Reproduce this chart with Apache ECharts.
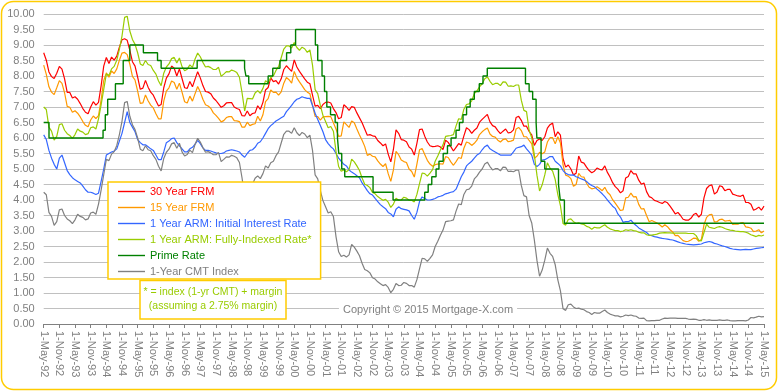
<!DOCTYPE html>
<html><head><meta charset="utf-8">
<script src="https://cdn.jsdelivr.net/npm/echarts@6/dist/echarts.min.js"></script>
<style>html,body{margin:0;padding:0;background:#fff}#c{width:778px;height:391px}</style>
</head><body><div id="c"></div>
<script>
// Monthly values, May-1992 .. May-2015 (277 months)
const frm30 = [
 8.75,8.51,8.13,7.98,7.92,8.09,8.31,8.22,
 7.91,7.47,7.47,7.29,7.33,7.25,7.11,6.95,6.83,6.78,7.00,7.17,
 7.06,7.15,7.68,8.32,8.60,8.40,8.61,8.51,8.64,8.93,9.17,9.20,
 9.15,8.83,8.46,8.32,7.96,7.57,7.61,7.86,7.64,7.48,7.38,7.20,
 7.03,7.08,7.62,7.93,8.07,8.32,8.25,8.00,8.23,7.92,7.62,7.60,
 7.82,7.65,7.90,8.14,7.94,7.69,7.50,7.48,7.43,7.29,7.21,7.10,
 6.99,7.04,7.13,7.14,7.14,7.00,6.95,6.92,6.72,6.71,6.87,6.72,
 6.79,6.81,7.04,6.92,7.15,7.55,7.63,7.94,7.82,7.85,7.74,7.91,
 8.21,8.33,8.24,8.15,8.52,8.29,8.15,8.03,7.91,7.80,7.75,7.38,
 7.03,7.05,6.95,7.08,7.15,7.16,7.13,6.95,6.82,6.62,6.66,7.07,
 7.00,6.89,7.01,6.99,6.81,6.65,6.49,6.29,6.09,6.11,6.07,6.05,
 5.92,5.84,5.75,5.81,5.48,5.23,5.63,6.26,6.15,5.95,5.93,5.88,
 5.71,5.64,5.45,5.83,6.27,6.29,6.06,5.87,5.75,5.72,5.73,5.75,
 5.71,5.63,5.93,5.86,5.72,5.58,5.70,5.82,5.77,6.07,6.33,6.27,
 6.15,6.25,6.32,6.51,6.60,6.68,6.76,6.52,6.40,6.36,6.24,6.14,
 6.22,6.29,6.16,6.18,6.26,6.66,6.70,6.57,6.38,6.38,6.21,6.10,
 5.76,5.92,5.97,5.92,6.04,6.32,6.43,6.48,6.04,6.20,6.09,5.33,
 5.06,5.13,5.00,4.81,4.86,5.42,5.22,5.19,5.06,4.95,4.88,4.93,
 5.03,4.99,4.97,5.10,4.89,4.74,4.56,4.43,4.35,4.23,4.30,4.71,
 4.76,4.95,4.84,4.84,4.64,4.51,4.55,4.27,4.11,4.07,3.99,3.96,
 3.92,3.89,3.95,3.91,3.80,3.68,3.55,3.60,3.50,3.38,3.35,3.35,
 3.41,3.53,3.57,3.45,3.54,4.07,4.37,4.46,4.49,4.19,4.26,4.46,
 4.43,4.30,4.34,4.34,4.19,4.16,4.13,4.12,4.16,3.92,3.92,3.86,
 3.67,3.71,3.77,3.67,3.80
];
const frm15 = [
 8.35,8.05,7.65,7.48,7.40,7.62,7.85,7.76,
 7.46,7.02,6.99,6.83,6.88,6.80,6.68,6.53,6.41,6.36,6.58,6.71,
 6.63,6.72,7.23,7.85,8.10,7.96,8.16,8.08,8.23,8.51,8.74,8.76,
 8.69,8.38,7.99,7.87,7.51,7.12,7.13,7.39,7.20,7.06,6.97,6.78,
 6.62,6.62,7.19,7.51,7.62,7.84,7.79,7.57,7.77,7.48,7.17,7.13,
 7.35,7.19,7.43,7.66,7.48,7.25,7.07,7.03,6.96,6.81,6.73,6.63,
 6.52,6.56,6.66,6.69,6.69,6.56,6.55,6.53,6.35,6.35,6.51,6.40,
 6.44,6.46,6.70,6.55,6.75,7.17,7.27,7.55,7.47,7.48,7.38,7.49,
 7.77,7.95,7.88,7.77,8.15,7.94,7.81,7.69,7.56,7.48,7.43,7.05,
 6.70,6.69,6.58,6.68,6.69,6.70,6.69,6.49,6.29,6.05,6.07,6.52,
 6.43,6.34,6.55,6.49,6.29,6.10,5.93,5.73,5.44,5.48,5.41,5.39,
 5.26,5.16,5.08,5.17,4.85,4.60,4.97,5.57,5.46,5.29,5.24,5.21,
 5.00,4.92,4.74,5.16,5.62,5.66,5.47,5.28,5.16,5.09,5.14,5.16,
 5.17,5.16,5.40,5.37,5.23,5.12,5.24,5.37,5.34,5.67,5.87,5.84,
 5.76,5.83,5.93,6.11,6.20,6.27,6.32,6.13,6.05,6.03,5.93,5.87,
 5.95,5.97,5.88,5.90,5.93,6.29,6.34,6.24,6.04,6.04,5.92,5.81,
 5.35,5.41,5.54,5.49,5.55,5.87,6.01,6.01,5.81,6.04,5.84,5.13,
 4.80,4.77,4.69,4.44,4.50,4.86,4.75,4.74,4.54,4.41,4.36,4.38,
 4.43,4.37,4.30,4.41,4.25,4.17,4.01,3.90,3.78,3.66,3.68,4.07,
 4.09,4.22,4.10,4.11,3.86,3.71,3.72,3.50,3.30,3.34,3.30,3.26,
 3.20,3.13,3.20,3.14,3.04,2.97,2.85,2.86,2.77,2.69,2.66,2.67,
 2.71,2.77,2.76,2.67,2.73,3.20,3.44,3.52,3.54,3.29,3.30,3.37,
 3.38,3.32,3.33,3.34,3.21,3.23,3.22,3.26,3.27,3.13,3.12,3.09,
 2.98,3.00,3.04,2.94,3.00
];
const armInitial = [
 6.10,5.95,5.60,5.35,5.15,5.00,5.35,5.45,
 5.20,4.95,4.82,4.72,4.65,4.60,4.55,4.45,4.33,4.25,4.25,4.22,
 4.18,4.22,4.60,5.00,5.45,5.50,5.55,5.58,5.65,5.90,6.15,6.50,
 6.85,6.50,6.35,6.20,5.95,5.85,5.78,5.78,5.72,5.65,5.60,5.45,
 5.30,5.30,5.55,5.85,5.90,5.98,6.00,5.85,5.75,5.65,5.55,5.55,
 5.65,5.70,5.80,5.92,5.82,5.68,5.60,5.60,5.58,5.55,5.52,5.50,
 5.50,5.52,5.58,5.60,5.62,5.60,5.58,5.55,5.45,5.38,5.50,5.60,
 5.62,5.70,5.83,5.88,6.00,6.15,6.30,6.40,6.47,6.55,6.60,6.65,
 6.70,6.85,6.95,7.05,7.17,7.25,7.28,7.33,7.30,7.28,7.28,7.05,
 6.80,6.60,6.40,6.20,5.95,5.82,5.72,5.65,5.50,5.35,5.25,5.15,
 5.10,4.97,4.90,4.85,4.78,4.72,4.55,4.43,4.30,4.20,4.16,4.05,
 3.95,3.85,3.78,3.72,3.60,3.55,3.46,3.70,3.78,3.72,3.70,3.68,
 3.65,3.50,3.38,3.60,3.95,4.10,4.05,4.00,4.00,4.02,4.05,4.10,
 4.12,4.15,4.20,4.22,4.25,4.27,4.35,4.55,4.75,4.90,5.10,5.18,
 5.25,5.35,5.45,5.50,5.62,5.72,5.77,5.65,5.60,5.55,5.50,5.45,
 5.45,5.45,5.45,5.45,5.55,5.67,5.70,5.72,5.77,5.65,5.55,5.45,
 5.15,5.08,5.15,5.29,5.30,5.35,5.40,5.40,5.25,5.18,5.10,4.95,
 4.86,4.82,4.80,4.81,4.75,4.72,4.68,4.65,4.60,4.52,4.47,4.43,
 4.35,4.28,4.20,4.11,4.00,3.90,3.80,3.73,3.55,3.45,3.28,3.30,
 3.30,3.35,3.25,3.18,3.10,3.05,3.00,2.95,2.87,2.85,2.82,2.80,
 2.78,2.76,2.75,2.74,2.72,2.71,2.68,2.65,2.62,2.60,2.58,2.57,
 2.56,2.55,2.56,2.57,2.58,2.62,2.64,2.66,2.64,2.60,2.58,2.55,
 2.52,2.50,2.47,2.44,2.42,2.41,2.40,2.39,2.40,2.41,2.40,2.40,
 2.42,2.44,2.45,2.46,2.47
];
const armFullyIndexed = [
 7.00,6.92,6.35,6.22,5.93,6.05,6.43,6.46,
 6.25,6.14,6.08,5.99,6.11,6.29,6.22,6.19,6.11,6.14,6.33,6.36,
 6.29,6.62,7.07,7.57,8.06,8.02,8.23,8.31,8.51,8.86,9.29,9.89,
 9.93,9.45,9.18,9.02,8.75,8.39,8.34,8.50,8.37,8.34,8.18,8.06,
 7.84,7.69,8.09,8.29,8.39,8.56,8.60,8.42,8.58,8.30,8.17,8.22,
 8.36,8.28,8.55,8.74,8.62,8.44,8.29,8.31,8.27,8.21,8.21,8.28,
 7.99,8.06,8.14,8.13,8.19,8.16,8.11,7.96,7.46,6.87,7.28,7.27,
 7.26,7.45,7.53,7.44,7.60,7.85,7.78,7.95,8.00,8.18,8.30,8.59,
 8.87,8.97,8.97,8.90,9.08,8.92,8.83,8.93,8.88,8.76,8.84,8.35,
 7.56,7.43,7.05,6.73,6.53,6.33,6.37,6.22,5.57,5.08,4.93,4.97,
 4.91,4.98,5.32,5.23,5.10,4.95,4.71,4.51,4.47,4.40,4.24,4.20,
 4.11,4.05,3.99,4.02,3.93,3.76,3.87,4.06,3.99,4.00,4.09,4.06,
 3.99,3.99,3.94,4.18,4.53,4.87,4.85,4.77,4.87,4.98,5.25,5.42,
 5.61,5.78,6.05,6.07,6.08,6.11,6.39,6.62,6.60,6.93,7.08,7.10,
 7.20,7.43,7.52,7.65,7.75,7.91,7.97,7.83,7.72,7.76,7.76,7.69,
 7.81,7.80,7.67,7.68,7.66,7.71,7.71,7.22,6.89,6.85,6.25,6.01,
 5.46,4.80,4.29,4.49,4.81,5.20,5.03,4.93,4.66,4.17,3.82,3.24,
 3.19,3.37,3.39,3.30,3.25,3.26,3.23,3.21,3.15,3.12,3.06,3.12,
 3.10,3.10,3.15,3.20,3.12,3.07,3.04,3.01,3.01,2.98,3.00,3.04,
 3.02,3.04,3.01,3.00,2.96,2.94,2.94,2.88,2.86,2.87,2.88,2.90,
 2.93,2.94,2.95,2.94,2.94,2.93,2.93,2.93,2.93,2.93,2.93,2.92,
 2.92,2.92,2.85,2.70,2.68,2.95,3.22,3.12,3.10,3.08,3.12,3.14,
 3.12,3.08,3.05,3.03,3.02,3.00,2.99,2.98,2.98,2.96,2.93,2.88,
 2.85,2.82,2.86,2.84,2.87
];
const cmt1yr = [
 4.25,4.17,3.60,3.47,3.18,3.30,3.68,3.71,
 3.50,3.39,3.33,3.24,3.36,3.54,3.47,3.44,3.36,3.39,3.58,3.61,
 3.54,3.87,4.32,4.82,5.31,5.27,5.48,5.56,5.76,6.11,6.54,7.14,
 7.18,6.70,6.43,6.27,6.00,5.64,5.59,5.75,5.62,5.59,5.43,5.31,
 5.09,4.94,5.34,5.54,5.64,5.81,5.85,5.67,5.83,5.55,5.42,5.47,
 5.61,5.53,5.80,5.99,5.87,5.69,5.54,5.56,5.52,5.46,5.46,5.53,
 5.24,5.31,5.39,5.38,5.44,5.41,5.36,5.21,4.71,4.12,4.53,4.52,
 4.51,4.70,4.78,4.69,4.85,5.10,5.03,5.20,5.25,5.43,5.55,5.84,
 6.12,6.22,6.22,6.15,6.33,6.17,6.08,6.18,6.13,6.01,6.09,5.60,
 4.81,4.68,4.30,3.98,3.78,3.58,3.62,3.47,2.82,2.33,2.18,2.22,
 2.16,2.23,2.57,2.48,2.35,2.20,1.96,1.76,1.72,1.65,1.49,1.45,
 1.36,1.30,1.24,1.27,1.18,1.01,1.12,1.31,1.24,1.25,1.34,1.31,
 1.24,1.24,1.19,1.43,1.78,2.12,2.10,2.02,2.12,2.23,2.50,2.67,
 2.86,3.03,3.30,3.32,3.33,3.36,3.64,3.87,3.85,4.18,4.33,4.35,
 4.45,4.68,4.77,4.90,5.00,5.16,5.22,5.08,4.97,5.01,5.01,4.94,
 5.06,5.05,4.92,4.93,4.91,4.96,4.96,4.47,4.14,4.10,3.50,3.26,
 2.71,2.05,1.54,1.74,2.06,2.45,2.28,2.18,1.91,1.42,1.07,0.49,
 0.44,0.62,0.64,0.55,0.50,0.51,0.48,0.46,0.40,0.37,0.31,0.37,
 0.35,0.35,0.40,0.45,0.37,0.32,0.29,0.26,0.26,0.23,0.25,0.29,
 0.27,0.29,0.26,0.25,0.19,0.18,0.19,0.11,0.10,0.11,0.11,0.12,
 0.12,0.16,0.19,0.18,0.19,0.19,0.19,0.18,0.18,0.18,0.18,0.16,
 0.15,0.16,0.15,0.12,0.12,0.14,0.12,0.13,0.12,0.12,0.12,0.13,
 0.12,0.12,0.13,0.11,0.10,0.10,0.11,0.11,0.11,0.10,0.13,0.21,
 0.20,0.22,0.25,0.23,0.24
];
// Prime rate: date of change, new rate
const primeChanges = [
 ['1992-05-01',6.50],['1992-07-02',6.00],['1994-03-24',6.25],['1994-04-19',6.75],
 ['1994-05-17',7.25],['1994-08-16',7.75],['1994-11-15',8.50],['1995-02-01',9.00],
 ['1995-07-07',8.75],['1995-12-20',8.50],['1996-02-01',8.25],['1997-03-26',8.50],
 ['1998-09-30',8.25],['1998-10-16',8.00],['1998-11-18',7.75],['1999-07-01',8.00],
 ['1999-08-25',8.25],['1999-11-17',8.50],['2000-02-03',8.75],['2000-03-22',9.00],
 ['2000-05-17',9.50],['2001-01-04',9.00],['2001-02-01',8.50],['2001-03-21',8.00],
 ['2001-04-19',7.50],['2001-05-16',7.00],['2001-06-28',6.75],['2001-08-22',6.50],
 ['2001-09-18',6.00],['2001-10-03',5.50],['2001-11-07',5.00],['2001-12-12',4.75],
 ['2002-11-07',4.25],['2003-06-27',4.00],['2004-07-01',4.25],['2004-08-11',4.50],
 ['2004-09-22',4.75],['2004-11-11',5.00],['2004-12-15',5.25],['2005-02-03',5.50],
 ['2005-03-23',5.75],['2005-05-04',6.00],['2005-07-01',6.25],['2005-08-10',6.50],
 ['2005-09-21',6.75],['2005-11-02',7.00],['2005-12-14',7.25],['2006-02-01',7.50],
 ['2006-03-29',7.75],['2006-05-11',8.00],['2006-06-30',8.25],['2007-09-19',7.75],
 ['2007-11-01',7.50],['2007-12-12',7.25],['2008-01-22',6.50],['2008-01-31',6.00],
 ['2008-03-19',5.25],['2008-05-01',5.00],['2008-10-09',4.50],['2008-10-30',4.00],
 ['2008-12-17',3.25],['2015-05-01',3.25]
];
const seriesNames = ['30 Year FRM','15 Year FRM','1 Year ARM: Initial Interest Rate','1 Year ARM: Fully-Indexed Rate*','Prime Rate','1-Year CMT Index'];
const seriesColors = ['#ff0000','#ff9900','#3366ff','#99cc00','#008000','#808080'];
const monthNames = ['Jan','Feb','Mar','Apr','May','Jun','Jul','Aug','Sep','Oct','Nov','Dec'];
const footnote = ['* = index (1-yr CMT) + margin','(assuming a 2.75% margin)'];
const copyright = 'Copyright \u00a9 2015 Mortgage-X.com';

const FONT = '"Liberation Sans", Arial, sans-serif';
function monthIndex(d){
  const [y,m,dd] = d.split('-').map(Number);
  const dim = new Date(y, m, 0).getDate();
  return (y-1992)*12 + (m-5) + (dd-1)/dim;
}
function monthLabel(i){
  const t = Math.round(i) + 4;
  const y = 1992 + Math.floor(t/12);
  return '1-' + monthNames[t%12] + '-' + String(y%100).padStart(2,'0');
}
const toPairs = arr => arr.map((v,i)=>[i,v]);
const datasets = [toPairs(frm30), toPairs(frm15), toPairs(armInitial), toPairs(armFullyIndexed),
  primeChanges.map(([d,v])=>[monthIndex(d),v]), toPairs(cmt1yr)];

const chart = echarts.init(document.getElementById('c'), null, {renderer:'canvas'});
chart.setOption({
  animation:false,
  backgroundColor:'#fff',
  grid:{left:43.7, right:14, top:14, bottom:67},
  xAxis:{type:'value', min:0, max:276, interval:6,
    axisLine:{lineStyle:{color:'#808080'}},
    axisTick:{show:true, length:4, lineStyle:{color:'#808080'}},
    splitLine:{show:false},
    axisLabel:{rotate:-90, margin:7, color:'#808080', fontSize:11, fontFamily:FONT, formatter:monthLabel}
  },
  yAxis:{type:'value', min:0, max:10, interval:0.5,
    axisLine:{show:false}, axisTick:{show:false},
    splitLine:{lineStyle:{color:'#c0c0c0', width:1}},
    axisLabel:{margin:9, color:'#808080', fontSize:11, fontFamily:FONT, formatter:v=>v.toFixed(2)}
  },
  legend:{orient:'vertical', left:108, top:182, padding:[4,9,2,10],
    itemWidth:27, itemHeight:12, itemGap:5,
    backgroundColor:'#fff', borderColor:'#ffcc00', borderWidth:1.5,
    textStyle:{fontSize:11, fontFamily:FONT},
    data: seriesNames.map((n,i)=>({name:n, icon:'path://M0,0h27v1.4h-27z', textStyle:{color:seriesColors[i]}}))
  },
  series: seriesNames.map((n,i)=>({
    name:n, type:'line', data:datasets[i], symbol:'none', showSymbol:false,
    step: i===4 ? 'end' : false,
    lineStyle:{color:seriesColors[i], width: i===4 ? 1.4 : 1.2},
    itemStyle:{color:seriesColors[i]},
    z: 2
  })),
  graphic:[
    {type:'rect', z:100, shape:{x:1.5, y:1.5, width:775, height:388, r:12},
      style:{fill:'none', stroke:'#ffcc00', lineWidth:1.5}},
    {type:'rect', z:100, shape:{x:140, y:280.5, width:146, height:38.5},
      style:{fill:'#fff', stroke:'#ffcc00', lineWidth:1.5}},
    {type:'text', z:101, style:{text:footnote[0], x:213, y:292.5, align:'center', verticalAlign:'middle',
      fill:'#99cc00', font:'10.5px '+FONT}},
    {type:'text', z:101, style:{text:footnote[1], x:213, y:306.5, align:'center', verticalAlign:'middle',
      fill:'#99cc00', font:'10.5px '+FONT}},
    {type:'text', z:101, style:{text:copyright, x:428, y:310, align:'center', verticalAlign:'middle',
      fill:'#808080', font:'11px '+FONT, backgroundColor:'#fff', padding:[1,4]}}
  ]
});
</script></body></html>
